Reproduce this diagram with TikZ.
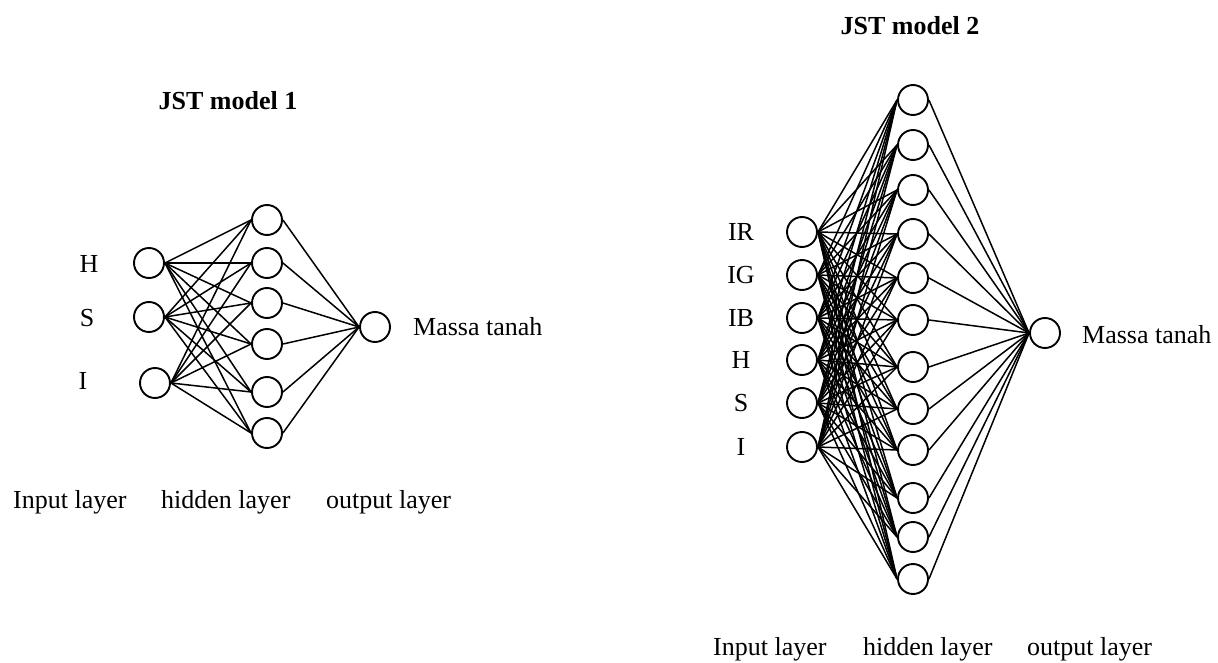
\documentclass[tikz,border=0pt]{standalone}
\usepackage{fontspec}
\setmainfont{Liberation Serif}
\begin{document}
\begin{tikzpicture}[x=1pt,y=-1pt,
  neuron/.style={circle,draw=black,line width=1.9pt,minimum size=30pt,inner sep=0pt},
  conn/.style={draw=black,line width=1.5pt},
  lbl/.style={inner sep=0pt,font=\fontsize{26}{30}\selectfont},
  ttl/.style={inner sep=0pt,font=\fontsize{26}{30}\selectfont\bfseries}]
\useasboundingbox[fill=white] (0,0) rectangle (1218,663);

% ---------------- Model 1 ----------------
\node[ttl,anchor=base] (t1) at (228,110) {JST model 1};
\node[neuron] (p1) at (149,263) {};
\node[neuron] (p2) at (149,317) {};
\node[neuron] (p3) at (155,383) {};
\foreach [count=\k] \y in {220,263,303,344,392,433}
  \node[neuron] (q\k) at (267,\y) {};
\node[neuron] (r1) at (375,327) {};

\node[lbl,anchor=base] (lh1) at (89,272) {H};
\node[lbl,anchor=base] (ls1) at (87,326) {S};
\node[lbl,anchor=base] (li1) at (83,389) {I};
\node[lbl,anchor=base west] (m1) at (413,335) {Massa tanah};

\foreach \i in {1,2,3}
  \foreach \j in {1,...,6}
    \draw[conn] (p\i.east) -- (q\j.west);
\foreach \j in {1,...,6}
  \draw[conn] (q\j.east) -- (r1.west);

\node[lbl,anchor=base west] (il1) at (13,508) {Input layer};
\node[lbl,anchor=base west] (hl1) at (161,508) {hidden layer};
\node[lbl,anchor=base west] (ol1) at (326,508) {output layer};

% ---------------- Model 2 ----------------
\node[ttl,anchor=base] (t2) at (910,35) {JST model 2};
\foreach [count=\k] \y/\t in {232/IR,275/IG,318/IB,360/H,403/S,447/I}{
  \node[neuron] (a\k) at (802,\y) {};
  \node[lbl,anchor=base] (la\k) at (741,\y+8.5) {\t};
}
\foreach [count=\k] \y in {100,145,190,234,278,320,367,409,450,498,537,579}
  \node[neuron] (b\k) at (913,\y) {};
\node[neuron] (c1) at (1045,333) {};
\node[lbl,anchor=base west] (m2) at (1082,343) {Massa tanah};

\foreach \i in {1,...,6}
  \foreach \j in {1,...,12}
    \draw[conn] (a\i.east) -- (b\j.west);
\foreach \j in {1,...,12}
  \draw[conn] (b\j.east) -- (c1.west);

\node[lbl,anchor=base west] (il2) at (713,655) {Input layer};
\node[lbl,anchor=base west] (hl2) at (863,655) {hidden layer};
\node[lbl,anchor=base west] (ol2) at (1027,655) {output layer};
\end{tikzpicture}
\end{document}
